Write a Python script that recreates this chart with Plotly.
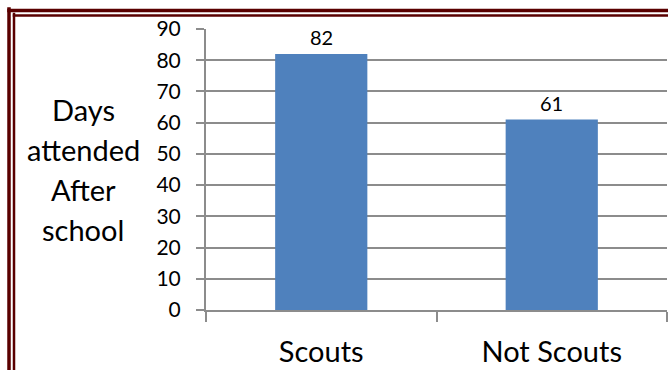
import plotly.graph_objects as go

# Chart data
categories = ["Scouts", "Not Scouts"]
days = [82, 61]
y_title_lines = ["Days", "attended", "After", "school"]
y_ticks = [0, 10, 20, 30, 40, 50, 60, 70, 80, 90]

W, H = 668, 370
L, R, T, B = 206, 1, 29, 60
PW, PH = W - L - R, H - T - B

FONT = "Lato, 'Open Sans', sans-serif"
GRID = "#8c8c8c"
FRAME = "#5a0000"


def px_x(x):
    return (x - L) / PW


def px_y(y):
    return 1 - (y - T) / PH


fig = go.Figure()
fig.add_trace(go.Bar(
    x=categories,
    y=days,
    width=0.4,
    marker=dict(color="#4f81bd", line=dict(width=0)),
    hoverinfo="skip",
))

# value labels above the bars
annotations = []
for cat, val in zip(categories, days):
    annotations.append(dict(
        x=cat, y=val, xref="x", yref="y", text=str(val), showarrow=False,
        yanchor="bottom", yshift=3, font=dict(family=FONT, size=20, color="#000000"),
    ))

# multi-line y axis title
baselines = [122, 162, 202, 242]
for line, base in zip(y_title_lines, baselines):
    annotations.append(dict(
        x=px_x(83), y=px_y(base), xref="paper", yref="paper", text=line,
        showarrow=False, xanchor="center", yanchor="bottom", yshift=-7,
        font=dict(family=FONT, size=29, color="#000000"),
    ))

# double frame around the chart (left and top edges)
shapes = []
for off, wid in [(9, 3.5), (14, 2.5)]:
    shapes.append(dict(type="line", xref="paper", yref="paper",
                       x0=px_x(off), x1=px_x(off), y0=px_y(off - wid / 2), y1=px_y(H + 5),
                       line=dict(color=FRAME, width=wid)))
    shapes.append(dict(type="line", xref="paper", yref="paper",
                       x0=px_x(off - wid / 2), x1=px_x(W + 5), y0=px_y(off + 1.5), y1=px_y(off + 1.5),
                       line=dict(color=FRAME, width=wid)))

fig.update_layout(
    width=W, height=H,
    margin=dict(l=L, r=R, t=T, b=B, pad=0),
    paper_bgcolor="white", plot_bgcolor="white",
    showlegend=False,
    bargap=0.6,
    annotations=annotations,
    shapes=shapes,
    font=dict(family=FONT, color="#000000"),
)
fig.update_xaxes(
    showgrid=False,
    showline=True, linecolor=GRID, linewidth=2,
    ticks="outside", tickson="boundaries", ticklen=10, tickwidth=1.5, tickcolor=GRID,
    tickfont=dict(family=FONT, size=29, color="#000000"),
    ticklabelstandoff=15,
)
fig.update_yaxes(
    range=[0, 90],
    tickvals=y_ticks,
    showgrid=True, gridcolor=GRID, gridwidth=1.5,
    showline=True, linecolor=GRID, linewidth=2,
    ticks="outside", ticklen=8, tickwidth=1.5, tickcolor=GRID,
    tickfont=dict(family=FONT, size=21, color="#000000"),
    ticklabelstandoff=11,
    zeroline=False,
)

fig.write_html("out.html")
